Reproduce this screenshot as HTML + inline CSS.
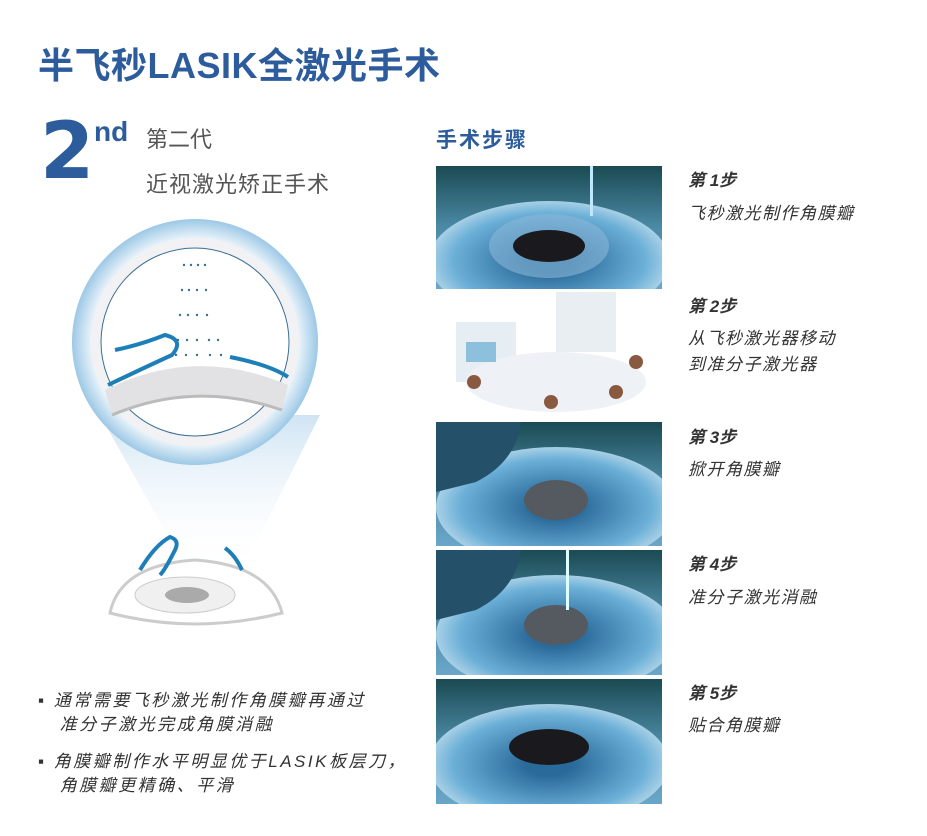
<!DOCTYPE html>
<html><head><meta charset="utf-8"><style>
body{margin:0;width:927px;height:836px;background:#fff;position:relative;overflow:hidden;font-family:"Liberation Sans","Noto Sans CJK SC",sans-serif}
.a{position:absolute;white-space:nowrap}
.t{color:#2c5c9c;font-weight:bold}
.s{font-style:italic;color:#333;font-size:17px;letter-spacing:1.5px}
.sb{font-weight:bold;font-style:italic;color:#333;font-size:17px}
.b{font-style:italic;color:#333;font-size:17px;letter-spacing:2.5px;line-height:24px}
.p{position:absolute;left:436px;width:226px}
</style></head><body>
<div class="a t" style="left:38px;top:37px;font-size:36px;letter-spacing:0.5px">半飞秒LASIK全激光手术</div>
<div class="a t" style="left:40px;top:112px;font-size:78px;line-height:80px;font-family:'DejaVu Sans',sans-serif">2</div>
<div class="a t" style="left:94px;top:116px;font-size:28px">nd</div>
<div class="a" style="left:146px;top:122px;font-size:22px;color:#555">第二代</div>
<div class="a" style="left:146px;top:167px;font-size:22px;color:#555;letter-spacing:1px">近视激光矫正手术</div>
<div class="a t" style="left:436px;top:124px;font-size:21px;letter-spacing:2px">手术步骤</div>

<svg class="a" style="left:60px;top:215px" width="280" height="440">
<defs><radialGradient id="rg" cx=".5" cy=".5" r=".5"><stop offset=".8" stop-color="#fff"/><stop offset="1" stop-color="#9cc8e6"/></radialGradient>
<linearGradient id="cone" x1="0" y1="0" x2="0" y2="1"><stop offset="0" stop-color="#cfe4f3"/><stop offset="1" stop-color="#fff" stop-opacity="0"/></linearGradient></defs>
<path d="M40 200 L130 360 L180 360 L260 200Z" fill="url(#cone)"/>
<circle cx="135" cy="127" r="123" fill="url(#rg)"/>
<circle cx="135" cy="127" r="104" fill="#f2f2f4"/>
<circle cx="135" cy="127" r="94" fill="#fff" stroke="#3a6f95" stroke-width="1"/>
<path d="M45 175 Q135 130 228 170 L222 195 Q135 165 52 200Z" fill="#e2e2e4"/>
<path d="M52 200 Q135 165 222 195" stroke="#bbb" stroke-width="3" fill="none"/>
<path d="M48 170 Q90 150 112 140 Q125 125 105 120 Q80 130 55 135" stroke="#1e7fb8" stroke-width="4" fill="none"/>
<path d="M170 142 Q210 150 228 162" stroke="#1e7fb8" stroke-width="4" fill="none"/>
<g fill="#3a6f95">
<circle cx="124" cy="50" r="1.2"/><circle cx="131" cy="50" r="1.2"/><circle cx="138" cy="50" r="1.2"/><circle cx="145" cy="50" r="1.2"/>
<circle cx="122" cy="75" r="1.2"/><circle cx="129" cy="75" r="1.2"/><circle cx="137" cy="75" r="1.2"/><circle cx="146" cy="75" r="1.2"/>
<circle cx="120" cy="100" r="1.2"/><circle cx="128" cy="100" r="1.2"/><circle cx="137" cy="100" r="1.2"/><circle cx="147" cy="100" r="1.2"/>
<circle cx="118" cy="125" r="1.2"/><circle cx="127" cy="125" r="1.2"/><circle cx="137" cy="125" r="1.2"/><circle cx="149" cy="125" r="1.2"/><circle cx="158" cy="125" r="1.2"/>
<circle cx="116" cy="140" r="1.2"/><circle cx="126" cy="140" r="1.2"/><circle cx="137" cy="140" r="1.2"/><circle cx="150" cy="140" r="1.2"/><circle cx="161" cy="140" r="1.2"/>
</g>
<path d="M50 398 Q60 350 135 345 Q210 350 222 398 Q135 420 50 398Z" fill="#fff" stroke="#ccc" stroke-width="3"/>
<ellipse cx="125" cy="380" rx="50" ry="18" fill="#f0f0f0" stroke="#ccc"/>
<ellipse cx="127" cy="380" rx="22" ry="8" fill="#aaa"/>
<path d="M80 355 Q95 330 110 322 Q120 325 115 335 Q105 355 100 360" stroke="#1e7fb8" stroke-width="4" fill="none"/>
<path d="M165 333 Q175 340 182 355" stroke="#1e7fb8" stroke-width="4" fill="none"/>
</svg>

<svg class="p" style="top:166px" height="123"><defs><linearGradient id="bg" x1="0" y1="0" x2="0" y2="1"><stop offset="0" stop-color="#1b4a52"/><stop offset=".5" stop-color="#4b8aa6"/><stop offset="1" stop-color="#6aa6c8"/></linearGradient><radialGradient id="ir"><stop offset=".2" stop-color="#2a6a9a"/><stop offset=".8" stop-color="#6cb0d8"/><stop offset="1" stop-color="#a8d0e6"/></radialGradient></defs>
<rect width="226" height="123" fill="url(#bg)"/><ellipse cx="113" cy="95" rx="120" ry="60" fill="url(#ir)"/><ellipse cx="113" cy="80" rx="60" ry="32" fill="#8ab8d8" opacity=".6"/><ellipse cx="113" cy="80" rx="36" ry="16" fill="#1a1a1e"/><rect x="154" y="0" width="3" height="50" fill="#bfe8ff"/></svg>

<svg class="p" style="top:292px" height="126"><rect width="226" height="126" fill="#fff"/><rect x="20" y="30" width="60" height="60" fill="#e6eef4"/><rect x="120" y="0" width="60" height="60" fill="#e9eef2"/><ellipse cx="120" cy="90" rx="90" ry="30" fill="#eef2f6"/><rect x="30" y="50" width="30" height="20" fill="#8dc0dc"/><circle cx="38" cy="90" r="7" fill="#8a5a40"/><circle cx="115" cy="110" r="7" fill="#8a5a40"/><circle cx="180" cy="100" r="7" fill="#8a5a40"/><circle cx="200" cy="70" r="7" fill="#8a5a40"/></svg>

<svg class="p" style="top:422px" height="124"><rect width="226" height="124" fill="url(#bg)"/><ellipse cx="120" cy="85" rx="120" ry="60" fill="url(#ir)"/><ellipse cx="120" cy="78" rx="32" ry="20" fill="#555a60"/><path d="M0 0 H85 Q80 40 40 60 L0 70Z" fill="#24506a"/></svg>
<svg class="p" style="top:550px" height="125"><rect width="226" height="125" fill="url(#bg)"/><ellipse cx="120" cy="85" rx="120" ry="60" fill="url(#ir)"/><ellipse cx="120" cy="75" rx="32" ry="20" fill="#555a60"/><path d="M0 0 H85 Q80 40 40 60 L0 70Z" fill="#24506a"/><rect x="130" y="0" width="3" height="60" fill="#dff"/></svg>
<svg class="p" style="top:679px" height="125"><rect width="226" height="125" fill="url(#bg)"/><ellipse cx="113" cy="85" rx="120" ry="60" fill="url(#ir)"/><ellipse cx="113" cy="68" rx="40" ry="18" fill="#1a1a1e"/></svg>

<div class="a sb" style="left:688px;top:166px">第 1步</div><div class="a s" style="left:688px;top:199px">飞秒激光制作角膜瓣</div>
<div class="a sb" style="left:688px;top:292px">第 2步</div><div class="a s" style="left:688px;top:324px">从飞秒激光器移动</div><div class="a s" style="left:688px;top:350px">到准分子激光器</div>
<div class="a sb" style="left:688px;top:423px">第 3步</div><div class="a s" style="left:688px;top:455px">掀开角膜瓣</div>
<div class="a sb" style="left:688px;top:550px">第 4步</div><div class="a s" style="left:688px;top:583px">准分子激光消融</div>
<div class="a sb" style="left:688px;top:679px">第 5步</div><div class="a s" style="left:688px;top:711px">贴合角膜瓣</div>

<div class="a b" style="left:38px;top:689px">▪ 通常需要飞秒激光制作角膜瓣再通过<br>&nbsp;&nbsp;&nbsp;准分子激光完成角膜消融</div>
<div class="a b" style="left:38px;top:750px">▪ 角膜瓣制作水平明显优于LASIK板层刀，<br>&nbsp;&nbsp;&nbsp;角膜瓣更精确、平滑</div>
</body></html>
